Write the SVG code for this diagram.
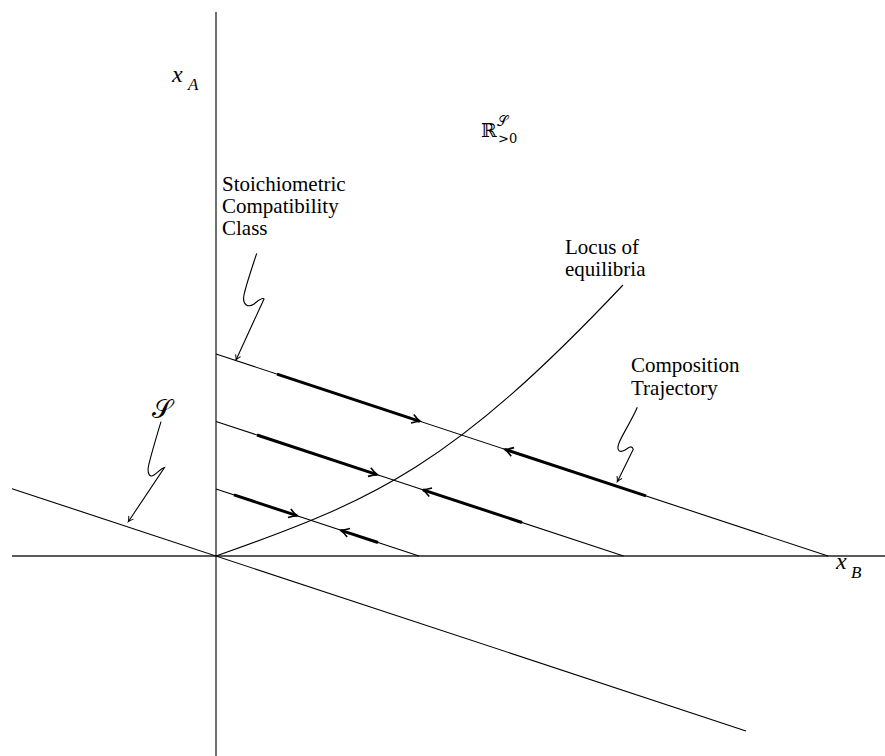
<svg xmlns="http://www.w3.org/2000/svg" width="885" height="756" viewBox="0 0 885 756">
<style>
.ln{stroke:#000;stroke-width:1.1;fill:none}
.ax{stroke:#222;stroke-width:1.3;fill:none}
.thk{stroke:#000;stroke-width:3;fill:none}
.lbl{font-family:"Liberation Serif","DejaVu Serif",serif;font-size:21px;fill:#000}
.mi{font-family:"Liberation Serif","DejaVu Serif",serif;font-style:italic;fill:#000}
.sym{font-family:"DejaVu Serif","Liberation Serif",serif;fill:#000}
</style>
<defs>
<path id="ah" d="M-8,-4.5 Q-3,-1 0,0 Q-3,1 -8,4.5" stroke="#000" stroke-width="1.6" fill="none"/>
<path id="ahs" d="M-5,-2.8 Q-2,-0.6 0,0 Q-2,0.6 -5,2.8" stroke="#000" stroke-width="1" fill="none"/>
</defs>
<g id="axes">
<line class="ax" x1="216" y1="12" x2="216" y2="756"/>
<line class="ax" x1="12" y1="556" x2="885" y2="556"/>
</g>
<g id="connectors">
<line id="S-line" class="ln" x1="12" y1="488.7" x2="746" y2="730.9"/>
<line id="class1" class="ln" x1="216" y1="354" x2="828" y2="556"/>
<line id="class2" class="ln" x1="216" y1="421.5" x2="623.6" y2="556"/>
<line id="class3" class="ln" x1="216" y1="489" x2="419" y2="556"/>
<path id="locus" class="ln" d="M216,556 C376,500 453,465 623,285"/>
<line class="thk" x1="277" y1="374.1" x2="420" y2="421.3"/>
<line class="thk" x1="505" y1="449.4" x2="646" y2="495.9"/>
<line class="thk" x1="257" y1="435" x2="377" y2="474.6"/>
<line class="thk" x1="423" y1="489.8" x2="522" y2="522.5"/>
<line class="thk" x1="234" y1="494.9" x2="297" y2="515.7"/>
<line class="thk" x1="341" y1="530.3" x2="378" y2="542.5"/>
<use href="#ah" transform="translate(420,421.3) rotate(18.26)"/>
<use href="#ah" transform="translate(505,449.4) rotate(198.26)"/>
<use href="#ah" transform="translate(377,474.6) rotate(18.26)"/>
<use href="#ah" transform="translate(423,489.8) rotate(198.26)"/>
<use href="#ah" transform="translate(297,515.7) rotate(18.26)"/>
<use href="#ah" transform="translate(341,530.3) rotate(198.26)"/>
<path class="ln" d="M256.7,253.3 C252,268 246,285 244,295 C242,305 248,308 254,304 C258,301 262,297 264,299 L236,360"/>
<use href="#ahs" transform="translate(236,360) rotate(114.7)"/>
<path class="ln" d="M637.3,407.3 C632,420 622,435 619,443 C616,451 620,453 625,450 C629,447 632,445 633.3,449.3 L617.3,481.7"/>
<use href="#ahs" transform="translate(617.3,481.7) rotate(116.3)"/>
<path class="ln" d="M161,421.7 C157,435 151,455 148.5,466 C147,474 150,478 154,475 C158,472 162,468 164.5,467.5 L128.3,521.7"/>
<use href="#ahs" transform="translate(128.3,521.7) rotate(123.9)"/>
</g>
<g id="label-xA"><text class="mi" x="172" y="82" font-size="24">x</text><text class="mi" x="188" y="90" font-size="17">A</text></g>
<g id="label-xB"><text class="mi" x="836" y="569" font-size="24">x</text><text class="mi" x="851" y="578" font-size="17">B</text></g>
<g id="label-R"><text class="sym" x="481" y="137" font-size="19">ℝ</text><text class="sym" x="497" y="126" font-size="14">𝒮</text><text class="sym" x="498" y="143" font-size="13">&gt;0</text></g>
<g id="label-S"><text class="sym" x="152" y="418" font-size="26">𝒮</text></g>
<g id="label-scc"><text class="lbl" x="222" y="191">Stoichiometric</text><text class="lbl" x="222" y="213">Compatibility</text><text class="lbl" x="222" y="235">Class</text></g>
<g id="label-locus"><text class="lbl" x="565" y="254">Locus of</text><text class="lbl" x="565" y="276">equilibria</text></g>
<g id="label-traj"><text class="lbl" x="631" y="372" font-size="22">Composition</text><text class="lbl" x="631" y="395" font-size="22">Trajectory</text></g>
</svg>
